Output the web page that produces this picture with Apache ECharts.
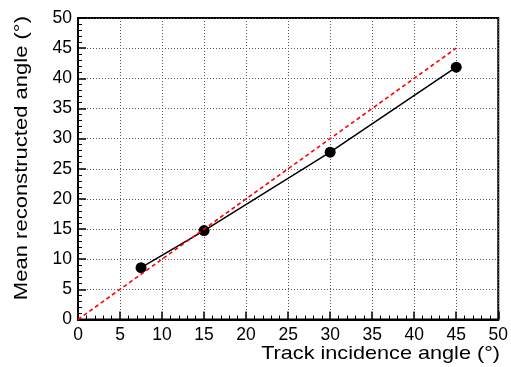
<!DOCTYPE html>
<html>
<head>
<meta charset="utf-8">
<script src="https://cdn.jsdelivr.net/npm/echarts@6/dist/echarts.min.js"></script>
<style>
  html, body { margin: 0; padding: 0; background: #fff; }
  #chart { width: 511px; height: 367px; }
</style>
</head>
<body>
<div id="chart"></div>
<script>
// Track incidence angle (deg) and mean reconstructed angle (deg)
const incidence = [7.5, 15, 30, 45];
const meanReco = [8.6, 14.75, 27.75, 41.85];
// Ideal response y = x
const idealX = [0, 45];
const idealY = [0, 45];
const axisTicks = [0, 5, 10, 15, 20, 25, 30, 35, 40, 45, 50];

const font = '"Liberation Sans", Arial, Helvetica, sans-serif';

const chart = echarts.init(document.getElementById('chart'), null, { renderer: 'canvas' });

function axisCfg(isX) {
  return {
    type: 'value',
    min: axisTicks[0],
    max: axisTicks[axisTicks.length - 1],
    interval: axisTicks[1] - axisTicks[0],
    axisLine: { show: true, onZero: false, lineStyle: { color: '#000', width: 2 } },
    axisTick: { show: true, inside: true, length: 8, lineStyle: { color: '#000', width: 1.5 } },
    minorTick: { show: true, splitNumber: 5, length: 4, lineStyle: { color: '#000', width: 1 } },
    axisLabel: {
      show: true, color: '#000', fontFamily: font, fontSize: 17.5,
      margin: isX ? 7 : 6
    },
    splitLine: {
      show: true,
      lineStyle: { color: '#555', width: 1, type: [1, 2] }
    }
  };
}

chart.setOption({
  animation: false,
  backgroundColor: '#fff',
  grid: {
    left: 78, right: 11, top: 18, bottom: 47.5,
    show: true, borderColor: '#000', borderWidth: 2, backgroundColor: 'transparent'
  },
  xAxis: axisCfg(true),
  yAxis: axisCfg(false),
  graphic: [
    {
      // x-axis title, right-aligned with the frame, slightly widened lettering
      type: 'text', x: 500, y: 354, scaleX: 1.17,
      style: {
        text: 'Track incidence angle (°)', fill: '#000', font: '18.5px ' + font,
        textAlign: 'right', textVerticalAlign: 'middle'
      }
    },
    {
      // y-axis title, reading upward, ending at the top of the frame
      type: 'text', x: 22, y: 16, rotation: Math.PI / 2, scaleX: 1.19,
      style: {
        text: 'Mean reconstructed angle (°)', fill: '#000', font: '18.5px ' + font,
        textAlign: 'right', textVerticalAlign: 'middle'
      }
    }
  ],
  series: [
    {
      type: 'line',
      data: incidence.map((x, i) => [x, meanReco[i]]),
      symbol: 'circle',
      symbolSize: 11,
      itemStyle: { color: '#000' },
      lineStyle: { color: '#000', width: 1.5 },
      z: 2
    },
    {
      type: 'line',
      data: idealX.map((x, i) => [x, idealY[i]]),
      symbol: 'none',
      lineStyle: { color: '#ff0000', width: 1.6, type: [4, 3] },
      z: 3
    }
  ]
});
</script>
</body>
</html>
